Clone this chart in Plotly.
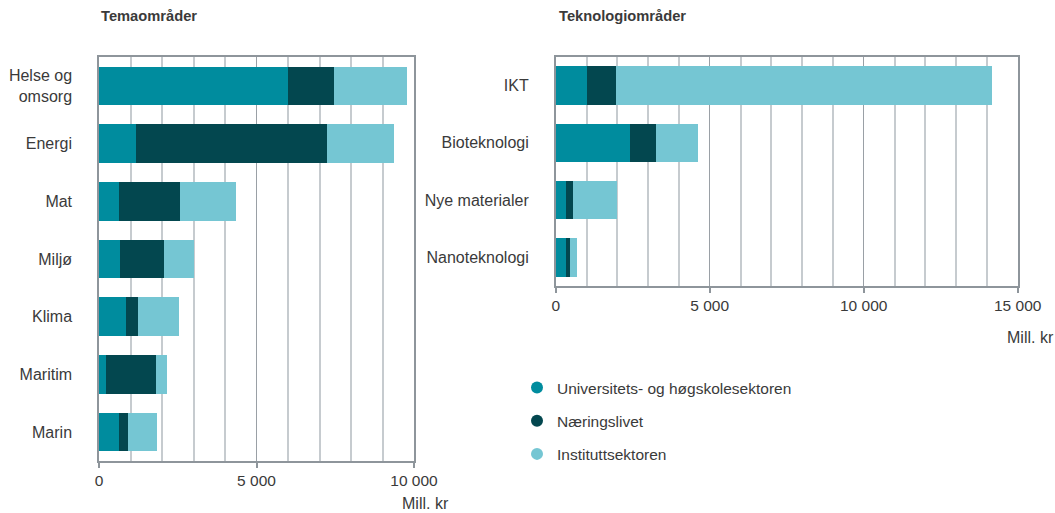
import plotly.graph_objects as go

# ---- Data ----
tema_categories = ["Helse og<br>omsorg", "Energi", "Mat", "Miljø", "Klima", "Maritim", "Marin"]
tema_uh = [6000, 1180, 640, 680, 850, 210, 640]
tema_naering = [1470, 6065, 1930, 1385, 390, 1590, 290]
tema_institutt = [2310, 2135, 1790, 945, 1300, 350, 910]

tek_categories = ["IKT", "Bioteknologi", "Nye materialer", "Nanoteknologi"]
tek_uh = [1000, 2420, 350, 325]
tek_naering = [950, 835, 200, 150]
tek_institutt = [12230, 1355, 1440, 215]

series_names = ["Universitets- og høgskolesektoren", "Næringslivet", "Instituttsektoren"]
colors = ["#008C9E", "#03474F", "#75C6D3"]

FONT = "Liberation Sans, Arial, sans-serif"
TXT = "#3a3a3a"
W, H = 1055, 513

fig = go.Figure()

tema_series = [tema_uh, tema_naering, tema_institutt]
tek_series = [tek_uh, tek_naering, tek_institutt]

for name, vals, col in zip(series_names, tema_series, colors):
    fig.add_trace(go.Bar(y=tema_categories, x=vals, orientation="h", name=name,
                         marker=dict(color=col, line=dict(width=0)),
                         xaxis="x", yaxis="y", showlegend=False))
for name, vals, col in zip(series_names, tek_series, colors):
    fig.add_trace(go.Bar(y=tek_categories, x=vals, orientation="h", name=name,
                         marker=dict(color=col, line=dict(width=0)),
                         xaxis="x2", yaxis="y2", showlegend=False))

# legend entries with circle symbols
for i, (name, col) in enumerate(zip(series_names, colors)):
    fig.add_trace(go.Scatter(x=[None], y=[None], mode="markers", name=name,
                             marker=dict(color=col, size=14, symbol="circle"),
                             legendgroup=f"g{i}", xaxis="x2", yaxis="y2", showlegend=True))

grid_minor = "#C6CBCF"
grid_major = "#9AA0A6"
frame = "#8E959B"

common_x = dict(
    showline=True, mirror=True, linecolor=frame, linewidth=1.5,
    showgrid=True, gridcolor=grid_major, gridwidth=1,
    ticks="outside", ticklen=5, tickcolor=frame, tickwidth=1.5,
    tickformat=",d", dtick=5000, tick0=0,
    tickfont=dict(family=FONT, size=15.5, color=TXT),
    minor=dict(dtick=1000, showgrid=True, gridcolor=grid_minor, gridwidth=1.5, ticks=""),
    zeroline=False, fixedrange=True, automargin=False,
)
common_y = dict(
    showline=True, mirror=True, linecolor=frame, linewidth=1.5,
    showgrid=False, ticks="", autorange="reversed",
    tickfont=dict(family=FONT, size=16, color=TXT),
    ticklabelstandoff=22, fixedrange=True, automargin=False,
)

fig.update_layout(
    width=W, height=H, autosize=False,
    margin=dict(l=0, r=0, t=0, b=0, pad=0),
    paper_bgcolor="white", plot_bgcolor="white",
    separators=", ",
    barmode="stack", bargap=0.33,
    font=dict(family=FONT, color=TXT, size=15),
    xaxis=dict(domain=[99/W, 414/W], range=[0, 10000], anchor="y", **common_x),
    yaxis=dict(domain=[1-461/H, 1-57/H], anchor="x", **common_y),
    xaxis2=dict(domain=[555.7/W, 1017.7/W], range=[0, 15000], anchor="y2", **common_x),
    yaxis2=dict(domain=[1-286/H, 1-57/H], anchor="x2", **common_y),
    legend=dict(x=517/W, y=1-371/H, xanchor="left", yanchor="top",
                font=dict(family=FONT, size=15.5, color=TXT),
                tracegroupgap=10, itemsizing="constant", bgcolor="rgba(0,0,0,0)"),
    annotations=[
        dict(text="<b>Temaområder</b>", x=99/W, y=1-16/H, xref="paper", yref="paper",
             xanchor="left", yanchor="middle", showarrow=False,
             font=dict(family=FONT, size=14.7, color=TXT)),
        dict(text="<b>Teknologiområder</b>", x=557/W, y=1-16/H, xref="paper", yref="paper",
             xanchor="left", yanchor="middle", showarrow=False,
             font=dict(family=FONT, size=14.7, color=TXT)),
        dict(text="Mill. kr", x=400/W, y=1-503/H, xref="paper", yref="paper",
             xanchor="left", yanchor="middle", showarrow=False,
             font=dict(family=FONT, size=16, color=TXT)),
        dict(text="Mill. kr", x=1005/W, y=1-337/H, xref="paper", yref="paper",
             xanchor="left", yanchor="middle", showarrow=False,
             font=dict(family=FONT, size=16, color=TXT)),
    ],
)

post = ("document.body.style.margin='0';document.body.style.padding='0';"
        "document.body.style.overflow='hidden';"
        "var gd=document.getElementById('{plot_id}');"
        "Plotly.relayout(gd,{width:1055,height:513});")

fig.write_html("out.html", post_script=post, config={"displayModeBar": False})
